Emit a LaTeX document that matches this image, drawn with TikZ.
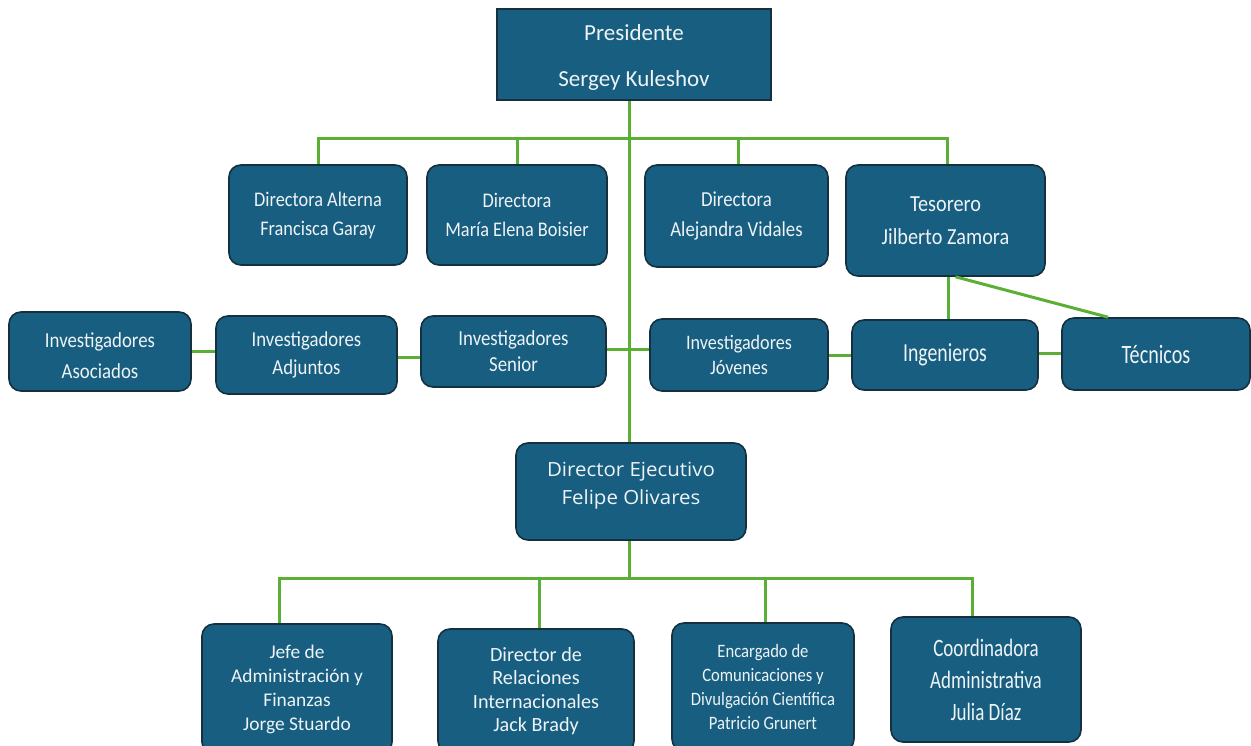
\documentclass[tikz,border=0pt]{standalone}
\usepackage{fontspec}
\setmainfont{Carlito}
\newfontfamily\narrowfont{Carlito}[FakeStretch=0.88]
\newfontfamily\ingfont{Carlito}[FakeStretch=0.76]
\newfontfamily\widefont{Open Sans}[FakeStretch=1.05]
\definecolor{boxfill}{HTML}{175E80}
\definecolor{boxline}{HTML}{15303F}
\definecolor{txt}{HTML}{EEF3F6}
\definecolor{lnk}{HTML}{5BAF35}
\begin{document}
\begin{tikzpicture}[x=1pt,y=-1pt,
  box/.style={draw=boxline, line width=1.6pt, fill=boxfill, text=txt,
    rounded corners=12pt, align=center, inner sep=0pt, anchor=center},
  lbl/.style={text=txt, align=center, inner sep=0pt},
  fs/.style 2 args={font=\fontsize{#1}{#2}\selectfont},
  nfs/.style 2 args={font=\narrowfont\fontsize{#1}{#2}\selectfont},
  link/.style={draw=lnk, line width=3pt},
]
\useasboundingbox (0,0) rectangle (1251,746);
% nodes
\node[box, rounded corners=0pt, minimum width=274pt, minimum height=91pt,
  label={[lbl, yshift=-3pt, font=\fontsize{23}{46}\selectfont]center:{Presidente\\Sergey Kuleshov}}] (pres) at (634,54.5) {};
\node[box, minimum width=178pt, minimum height=100pt, nfs={20.8}{29}] (dalt) at (318,215) {Directora Alterna\\Francisca Garay};
\node[box, minimum width=180pt, minimum height=100pt, nfs={20.8}{29}] (meb) at (517,215) {Directora\\María Elena Boisier};
\node[box, minimum width=183pt, minimum height=102pt, nfs={21.4}{30}] (ale) at (736.5,216) {Directora\\Alejandra Vidales};
\node[box, minimum width=199pt, minimum height=111pt, nfs={23}{33}] (tes) at (945.5,220.5) {Tesorero\\Jilberto Zamora};
\node[box, minimum width=182pt, minimum height=79pt,
  label={[lbl, yshift=-4pt, font=\narrowfont\fontsize{21.4}{31}\selectfont]center:{Investigadores\\Asociados}}] (aso) at (100,351.5) {};
\node[box, minimum width=181pt, minimum height=78pt, nfs={21.3}{28}] (adj) at (306.5,355) {Investigadores\\Adjuntos};
\node[box, minimum width=185pt, minimum height=71pt, nfs={21.4}{26}] (sen) at (513.5,351.5) {Investigadores\\Senior};
\node[box, minimum width=178pt, minimum height=72pt, nfs={20.6}{25}] (jov) at (739,355) {Investigadores\\Jóvenes};
\node[box, minimum width=186pt, minimum height=70pt, font=\ingfont\fontsize{26}{26}\selectfont] (ing) at (945,355) {Ingenieros};
\node[box, minimum width=188pt, minimum height=72pt, font=\ingfont\fontsize{26.5}{26}\selectfont] (tec) at (1156,354) {Técnicos};
\node[box, minimum width=230pt, minimum height=97pt,
  label={[lbl, yshift=6pt, font=\widefont\fontsize{19.5}{28}\selectfont]center:{Director Ejecutivo\\Felipe Olivares}}] (dexe) at (631,491.5) {};
\node[box, minimum width=190pt, minimum height=130pt, fs={19.4}{24}] (jefe) at (297,689) {Jefe de\\Administración y\\Finanzas\\Jorge Stuardo};
\node[box, minimum width=196pt, minimum height=124pt, fs={20.2}{23.5}] (rel) at (536,691) {Director de\\Relaciones\\Internacionales\\Jack Brady};
\node[box, minimum width=182pt, minimum height=128pt, nfs={18.9}{24}] (enc) at (763,687) {Encargado de\\Comunicaciones y\\Divulgación Científica\\Patricio Grunert};
\node[box, minimum width=190pt, minimum height=125pt, font=\ingfont\fontsize{25}{32}\selectfont] (coo) at (986,679.5) {Coordinadora\\Administrativa\\Julia Díaz};
% connectors
\coordinate (t1) at (629,139);
\coordinate (b1) at (629,578);
\draw[link] (pres.south -| t1) -- (dexe.north -| t1);
\draw[link] (dalt.north) |- (t1) -| ([xshift=2pt]tes.north);
\draw[link] (meb.north) -- (meb.north |- t1);
\draw[link] ([xshift=2pt]ale.north) -- ([xshift=2pt]ale.north |- t1);
\draw[link] (aso.east) -- (aso.east -| adj.west);
\draw[link] ([yshift=-2pt]adj.east) -- ([yshift=-2pt]adj.east -| sen.west);
\draw[link] ([yshift=2.5pt]sen.east) -- ([yshift=2.5pt]sen.east -| jov.west);
\draw[link] (jov.east) -- (jov.east -| ing.west);
\draw[link] ([yshift=2pt]ing.east) -- ([yshift=2pt]ing.east -| tec.west);
\draw[link] ([xshift=2.5pt]tes.south) -- ([xshift=2.5pt]tes.south |- ing.north);
\draw[link] ([xshift=10pt]tes.south) -- ([xshift=-48pt]tec.north);
\draw[link] (dexe.south -| b1) -- (b1);
\draw[link] ([xshift=-18pt]jefe.north) |- (b1) -| ([xshift=-14pt]coo.north);
\draw[link] ([xshift=3pt]rel.north) -- ([xshift=3pt]rel.north |- b1);
\draw[link] ([xshift=2pt]enc.north) -- ([xshift=2pt]enc.north |- b1);
\end{tikzpicture}
\end{document}
